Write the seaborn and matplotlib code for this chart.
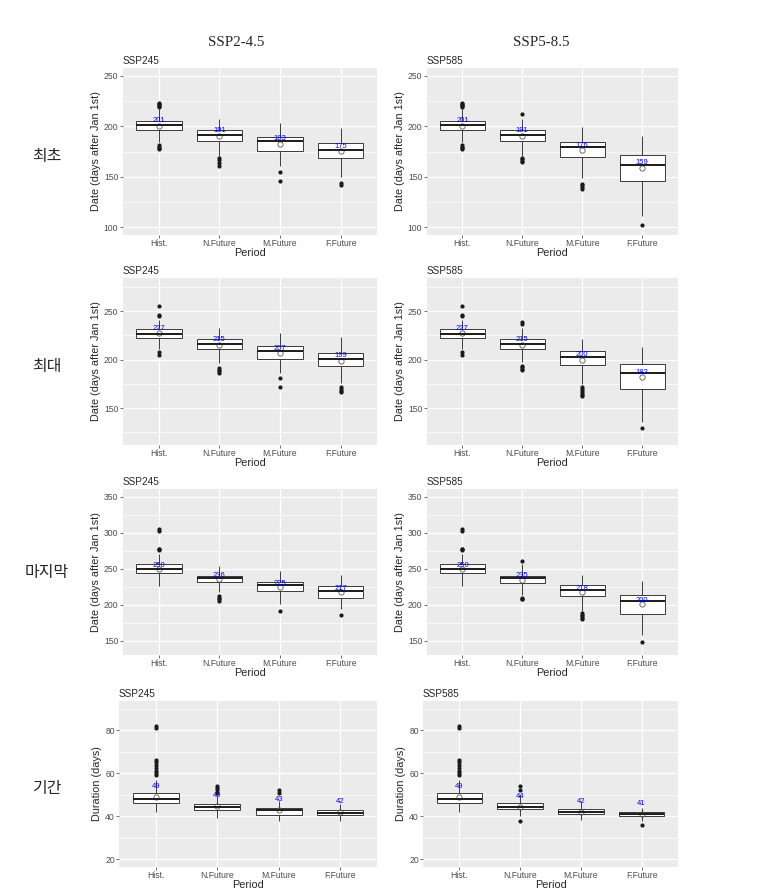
import numpy as np
import pandas as pd
import matplotlib
matplotlib.use("Agg")
import matplotlib.pyplot as plt
from matplotlib.ticker import MultipleLocator
import seaborn as sns

PERIODS   = ["Hist.", "N.Future", "M.Future", "F.Future"]
SCENARIOS = ["SSP245", "SSP585"]
HEADERS   = ["SSP2-4.5", "SSP5-8.5"]
ROW_NAMES = ["최초", "최대", "마지막", "기간"]
Y_LABELS  = ["Date (days after Jan 1st)"] * 3 + ["Duration (days)"]

# box stats per period: (lower whisker, q1, median, q3, upper whisker)
first245_box  = [(184, 196, 201, 205, 217), (171, 185.5, 191, 196, 207),
                 (161, 175.5, 185, 189, 203), (150, 168.5, 176.5, 183, 198)]
first245_out  = [[177, 178, 179, 181, 219, 220, 221, 222, 223],
                 [160.5, 163.5, 166.5, 168.5], [146, 154.5], [141.5, 143.5]]
first245_mean = [200.6, 190.6, 182.6, 175.3]

first585_box  = [(184, 196, 201, 205, 217), (171, 185.5, 191, 196, 207),
                 (149, 169.5, 179, 184, 199), (111, 145.5, 162, 171.5, 190)]
first585_out  = [[177, 178, 179, 181, 219, 220, 221, 222, 223],
                 [164.5, 166, 167.5, 169, 212.5], [137.5, 139.5, 141.5, 143], [102]]
first585_mean = [200.6, 190.6, 176.2, 158.8]

peak245_box  = [(211, 222, 226.5, 231, 241), (196, 210.5, 216.5, 221, 232),
                (186, 201, 208.5, 213.5, 227.5), (176, 193, 201, 206.5, 223)]
peak245_out  = [[204.5, 207.5, 245, 246, 255], [186.5, 188, 189.5, 191.5],
                [172, 181], [166.5, 168, 170, 172]]
peak245_mean = [227, 215.4, 206.6, 199]

peak585_box  = [(211, 222, 226.5, 231, 241), (197, 211, 216.5, 221, 232),
                (175, 194, 202.5, 208.5, 221.5), (136, 170, 186, 195, 213)]
peak585_out  = [[204.5, 207.5, 245, 246, 255], [189, 190.5, 192, 193.5, 237, 238.5],
                [162.5, 164, 166, 168, 170, 171.5], [129]]
peak585_mean = [227, 215.4, 200, 182]

last245_box  = [(226, 243.5, 249, 256, 270), (218, 231, 236.5, 240.5, 254.5),
                (201, 219, 227.5, 232, 247), (194, 210, 218.5, 225.5, 241)]
last245_out  = [[275.5, 277, 278, 303, 305], [205.5, 207.5, 209.5, 211.5],
                [191.5], [185.5]]
last245_mean = [250, 236, 225, 217]

last585_box  = [(226, 243.5, 249, 256, 270), (214, 229.5, 236.5, 240.5, 256),
                (191.5, 212.5, 220.5, 227, 241), (158, 187.5, 204.5, 213, 233)]
last585_out  = [[275.5, 277, 278, 303, 305], [207.5, 208.5, 209.5, 260.5],
                [180.5, 182, 184, 186, 188], [147.5]]
last585_mean = [250, 235, 218, 200.3]

dur245_box  = [(42, 46.2, 48, 50.6, 57), (39, 43, 44.3, 45.8, 49.5),
               (38, 40.8, 43, 43.9, 47), (38, 40.6, 41.5, 43, 45.5)]
dur245_out  = [[59, 60, 61, 62.5, 64, 65, 66, 81, 82], [51, 52, 53, 54], [51, 52], []]
dur245_mean = [49, 44.8, 42.8, 42]

dur585_box  = [(42, 46.2, 48, 50.6, 57), (40, 43.3, 44.3, 46, 50),
               (38.5, 41, 42.2, 43.4, 46.8), (38, 40, 41, 41.8, 44)]
dur585_out  = [[59, 60, 61, 62.5, 64, 65, 66, 81, 82], [38, 52, 54], [], [36]]
dur585_mean = [49, 44.4, 42, 41]

ROW_YLIM  = [(92.5, 257.5), (112, 284), (130, 361), (16.5, 93.5)]
ROW_TICKS = [[100, 150, 200, 250], [150, 200, 250], [150, 200, 250, 300, 350], [20, 40, 60, 80]]
ROW_MINOR = [25, 25, 25, 10]

PANELS = [
    [(first245_box, first245_out, first245_mean), (first585_box, first585_out, first585_mean)],
    [(peak245_box, peak245_out, peak245_mean), (peak585_box, peak585_out, peak585_mean)],
    [(last245_box, last245_out, last245_mean), (last585_box, last585_out, last585_mean)],
    [(dur245_box, dur245_out, dur245_mean), (dur585_box, dur585_out, dur585_mean)],
]


def box_values(stat, outs):
    # rows whose quartiles/whiskers reproduce the read box stats exactly
    lo, q1, med, q3, hi = stat
    below = sorted(v for v in outs if v < q1)
    above = sorted(v for v in outs if v > q3)
    k = max(len(below), len(above)) + 1
    vals = below + [lo] * (k - len(below))
    vals += [q1] * k + [med] * k + [q3]
    vals += [hi] * (k - len(above)) + above
    return vals


def panel_frame(boxes, outs):
    rows = []
    for period, stat, o in zip(PERIODS, boxes, outs):
        rows += [(period, v) for v in box_values(stat, o)]
    return pd.DataFrame(rows, columns=["period", "value"])


sns.set_theme(style="darkgrid", rc={
    "axes.facecolor": "#EBEBEB", "grid.color": "white", "axes.edgecolor": "#EBEBEB",
    "figure.facecolor": "white",
})
plt.rcParams['font.family'] = ['Liberation Sans', 'DejaVu Sans']

W, H = 766, 892
fig = plt.figure(figsize=(W / 100, H / 100), dpi=100)

ROW_Y = [(68, 235), (278, 445), (489, 655), (701, 867)]
COL_X = [[(122.5, 377), (426.5, 678)]] * 3 + [[(119, 377), (423, 678)]]

for r in range(4):
    for c in range(2):
        x0, x1 = COL_X[r][c]
        y0, y1 = ROW_Y[r]
        ax = fig.add_axes([x0 / W, 1 - y1 / H, (x1 - x0) / W, (y1 - y0) / H])
        boxes, outs, means = PANELS[r][c]
        df = panel_frame(boxes, outs)

        sns.boxplot(data=df, x="period", y="value", order=PERIODS, ax=ax,
                    width=0.75, color="white", linecolor="#3a3a3a", linewidth=0.7,
                    showcaps=False,
                    medianprops=dict(color="#1a1a1a", linewidth=1.4),
                    flierprops=dict(marker="o", markerfacecolor="#1a1a1a",
                                    markeredgecolor="#1a1a1a", markersize=2))
        sns.pointplot(x=PERIODS, y=means, order=PERIODS, ax=ax, color="#555555",
                      linestyle="none", markers="o", markersize=3.8,
                      markerfacecolor="none", markeredgewidth=0.6, errorbar=None)
        for i, m in enumerate(means):
            ax.text(i, m + 5, f"{m:.0f}", color="blue", ha="center", va="center",
                    fontsize=5.5, zorder=6)

        ax.set_xlim(-0.6, 3.6)
        ax.set_ylim(*ROW_YLIM[r])
        ax.set_yticks(ROW_TICKS[r])
        ax.yaxis.set_minor_locator(MultipleLocator(ROW_MINOR[r]))
        ax.grid(True, which="major", color="white", linewidth=0.9)
        ax.grid(True, which="minor", axis="y", color="white", linewidth=0.45)
        ax.xaxis.grid(True)
        ax.set_axisbelow(True)
        ax.tick_params(axis="both", which="major", labelsize=6.2, labelcolor="#4D4D4D",
                       length=2, width=0.5, color="#333333", pad=1, left=True, bottom=True)
        ax.tick_params(axis="y", which="minor", length=0)
        for s in ax.spines.values():
            s.set_visible(False)
        ax.set_xlabel("Period", fontsize=7.8, labelpad=0)
        ax.set_ylabel(Y_LABELS[r], fontsize=7.8, labelpad=2)
        ax.set_title(SCENARIOS[c], loc="left", fontsize=7.2, pad=3)

for c, (hdr, xc) in enumerate(zip(HEADERS, [236, 541])):
    fig.text(xc / W, 1 - 42 / H, hdr, ha="center", va="center", fontsize=10.8,
             family=["Liberation Serif", "DejaVu Serif"])

for name, yc in zip(ROW_NAMES, [156, 366, 573, 788]):
    fig.text(47 / W, 1 - yc / H, name, ha="center", va="center", fontsize=11.5,
             family=["Noto Sans CJK KR", "DejaVu Sans"])

fig.savefig("out.png", dpi=100)
